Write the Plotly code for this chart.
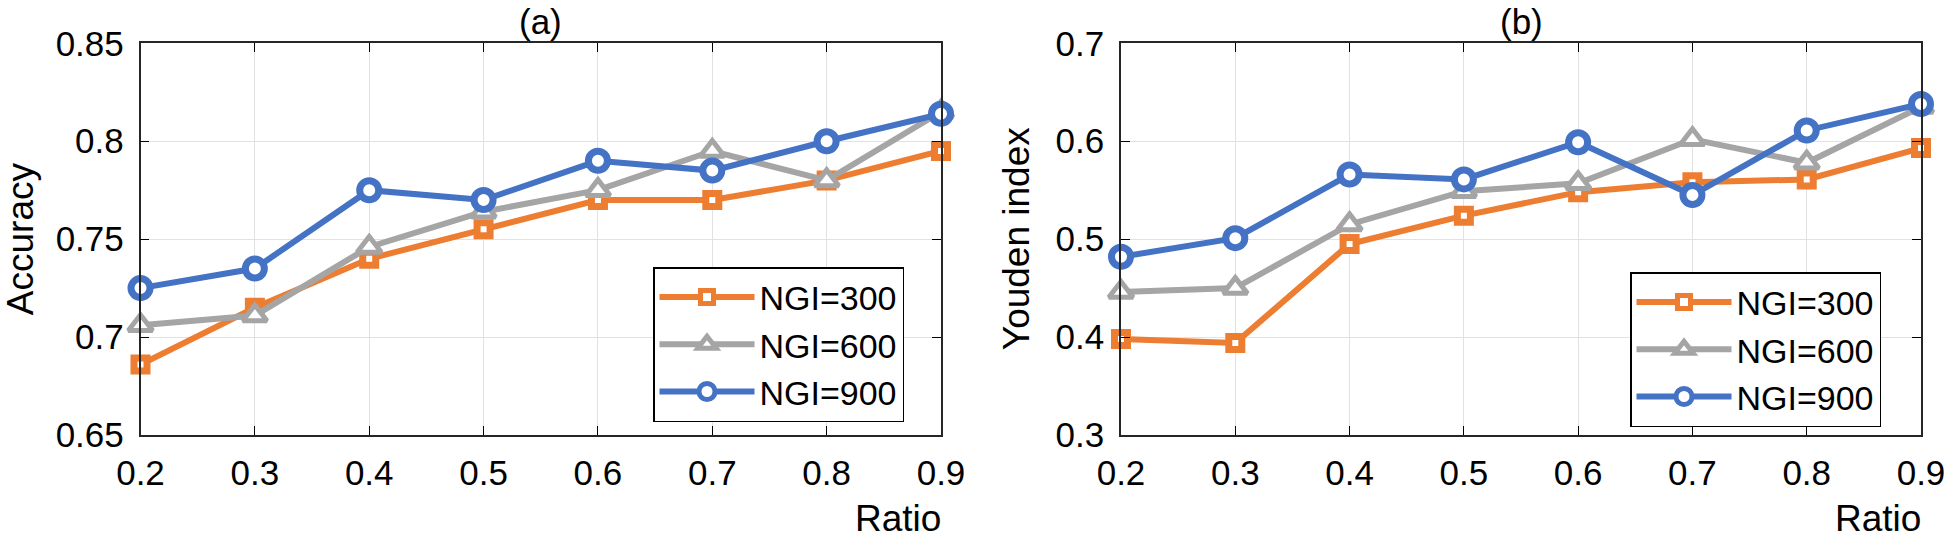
import plotly.graph_objects as go

# ---------------- data ----------------
ratio = [0.2, 0.3, 0.4, 0.5, 0.6, 0.7, 0.8, 0.9]
series_names = ["NGI=300", "NGI=600", "NGI=900"]

acc_300 = [0.686, 0.715, 0.740, 0.755, 0.770, 0.770, 0.780, 0.795]
acc_600 = [0.706, 0.711, 0.746, 0.764, 0.775, 0.795, 0.780, 0.815]
acc_900 = [0.725, 0.735, 0.775, 0.770, 0.790, 0.785, 0.800, 0.814]

you_300 = [0.398, 0.394, 0.495, 0.524, 0.548, 0.558, 0.561, 0.593]
you_600 = [0.446, 0.450, 0.515, 0.549, 0.557, 0.602, 0.578, 0.635]
you_900 = [0.482, 0.501, 0.566, 0.561, 0.599, 0.545, 0.611, 0.638]

x_ticks = [0.2, 0.3, 0.4, 0.5, 0.6, 0.7, 0.8, 0.9]
x_ticktext = ["0.2", "0.3", "0.4", "0.5", "0.6", "0.7", "0.8", "0.9"]
acc_ticks = [0.65, 0.7, 0.75, 0.8, 0.85]
acc_ticktext = ["0.65", "0.7", "0.75", "0.8", "0.85"]
you_ticks = [0.3, 0.4, 0.5, 0.6, 0.7]
you_ticktext = ["0.3", "0.4", "0.5", "0.6", "0.7"]

panel_titles = ["(a)", "(b)"]
y_titles = ["Accuracy", "Youden index"]
x_title = "Ratio"

# ---------------- styling ----------------
W, H = 1946, 542
FONT = "Liberation Sans, Arial, sans-serif"
colors = ["#ED7D31", "#A5A5A5", "#4472C4"]
symbols = ["square", "triangle-up", "circle"]
msizes = [13, 21, 19]
mlw = [7, 5, 7]


def px_x(p):
    return p / W


def px_y(p):
    return 1 - p / H


fig = go.Figure()

panels = [
    dict(data=[acc_300, acc_600, acc_900], xa="x", ya="y", legend="legend"),
    dict(data=[you_300, you_600, you_900], xa="x2", ya="y2", legend="legend2"),
]

for pnl in panels:
    for i, (vals, name) in enumerate(zip(pnl["data"], series_names)):
        fig.add_trace(go.Scatter(
            x=ratio, y=vals, name=name, mode="lines+markers",
            xaxis=pnl["xa"], yaxis=pnl["ya"], legend=pnl["legend"],
            cliponaxis=False,
            line=dict(color=colors[i], width=6),
            marker=dict(symbol=symbols[i], size=msizes[i], color="white",
                        line=dict(color=colors[i], width=mlw[i])),
        ))

# plot area pixel boxes
top_px, bot_px = 43.3, 435
a_l, a_r = 140.5, 941
b_l, b_r = 1121, 1921

common_x = dict(range=[0.2, 0.9], tickmode="array", tickvals=x_ticks, ticktext=x_ticktext,
                ticks="inside", ticklen=9, tickwidth=1.2, tickcolor="#000",
                mirror="allticks", showline=True, linecolor="#262626", linewidth=1.5,
                showgrid=True, gridcolor="#E2E2E2", gridwidth=1, zeroline=False,
                automargin=False,
                tickfont=dict(family=FONT, size=35, color="#000"), ticklabelstandoff=6)
common_y = dict(ticks="inside", ticklen=9, tickwidth=1.2, tickcolor="#000",
                mirror="allticks", showline=True, linecolor="#262626", linewidth=1.5,
                showgrid=True, gridcolor="#E2E2E2", gridwidth=1, zeroline=False,
                tickmode="array", automargin=False,
                tickfont=dict(family=FONT, size=35, color="#000"), ticklabelstandoff=8)

legend_common = dict(bgcolor="white", bordercolor="#000", borderwidth=1.5,
                     font=dict(family=FONT, size=34, color="#000"),
                     xanchor="left", yanchor="top", itemwidth=95,
                     tracegroupgap=0)

fig.update_layout(
    template="none",
    width=W, height=H, autosize=False,
    margin=dict(l=0, r=0, t=0, b=0, pad=0, autoexpand=False),
    paper_bgcolor="white", plot_bgcolor="white",
    font=dict(family=FONT, color="#000"),
    xaxis=dict(domain=[px_x(a_l), px_x(a_r)], anchor="y", **common_x),
    yaxis=dict(domain=[px_y(bot_px), px_y(top_px)], anchor="x", range=[0.65, 0.85],
               tickvals=acc_ticks, ticktext=acc_ticktext, **common_y),
    xaxis2=dict(domain=[px_x(b_l), px_x(b_r)], anchor="y2", **common_x),
    yaxis2=dict(domain=[px_y(bot_px), px_y(top_px)], anchor="x2", range=[0.3, 0.7],
                tickvals=you_ticks, ticktext=you_ticktext, **common_y),
    legend=dict(x=px_x(653), y=px_y(267), **legend_common),
    legend2=dict(x=px_x(1630), y=px_y(272), **legend_common),
    showlegend=True,
)

annotations = []
for (l, r), t, yt, ytx in [((a_l, a_r), panel_titles[0], y_titles[0], 20),
                           ((b_l, b_r), panel_titles[1], y_titles[1], 1016)]:
    annotations.append(dict(x=px_x((l + r) / 2), y=px_y(21), xref="paper", yref="paper",
                            text=t, showarrow=False, xanchor="center", yanchor="middle",
                            font=dict(family=FONT, size=35, color="#000")))
    annotations.append(dict(x=px_x(r + 2), y=px_y(518), xref="paper", yref="paper",
                            text=x_title, showarrow=False, xanchor="right", yanchor="middle",
                            font=dict(family=FONT, size=37, color="#000")))
    annotations.append(dict(x=px_x(ytx), y=px_y((top_px + bot_px) / 2), xref="paper", yref="paper",
                            text=yt, showarrow=False, textangle=-90,
                            xanchor="center", yanchor="middle",
                            font=dict(family=FONT, size=37, color="#000")))
fig.update_layout(annotations=annotations)

fig.write_html("out.html", config={"displayModeBar": False},
               post_script="document.body.style.margin='0';document.body.style.overflow='hidden';")
